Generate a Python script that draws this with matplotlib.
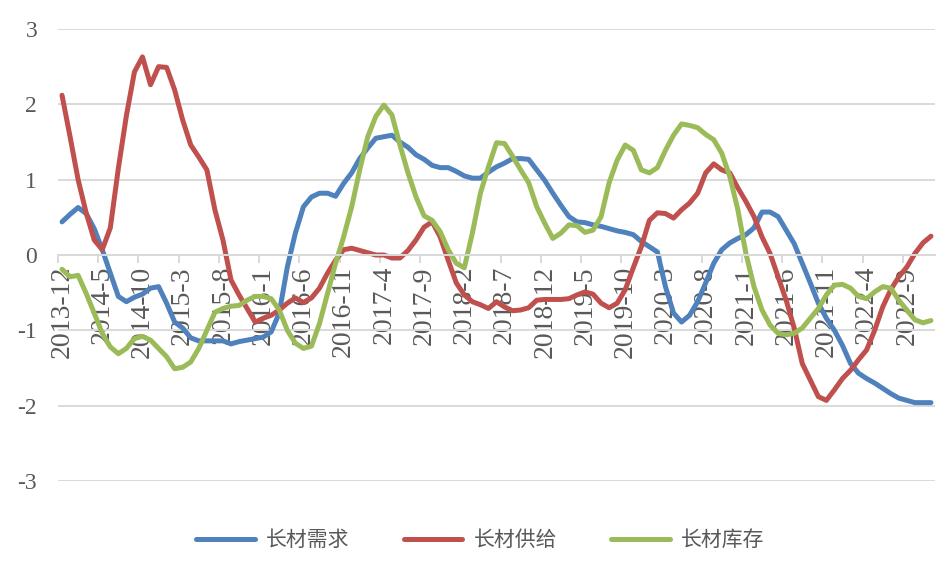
import numpy as np
import matplotlib
matplotlib.use("Agg")
import matplotlib.pyplot as plt
from matplotlib.ticker import FixedLocator

# 月份：2013-12 到 2022-12
months = []
for k in range(109):
    m = 12 + k
    y = 2013 + (m - 1) // 12
    mm = (m - 1) % 12 + 1
    months.append("%d-%d" % (y, mm))

demand = [0.44, 0.54, 0.63, 0.55, 0.35, 0.07, -0.24, -0.55, -0.62, -0.56,
          -0.52, -0.44, -0.42, -0.64, -0.89, -0.97, -1.10, -1.14, -1.14, -1.14,
          -1.14, -1.18, -1.15, -1.13, -1.11, -1.09, -1.02, -0.77, -0.16, 0.29,
          0.64, 0.77, 0.82, 0.82, 0.78, 0.95, 1.09, 1.28, 1.42, 1.55,
          1.57, 1.59, 1.50, 1.43, 1.33, 1.27, 1.19, 1.16, 1.16, 1.11,
          1.05, 1.02, 1.02, 1.10, 1.17, 1.22, 1.28, 1.28, 1.27, 1.13,
          0.99, 0.82, 0.66, 0.51, 0.44, 0.43, 0.40, 0.38, 0.35, 0.32,
          0.30, 0.27, 0.18, 0.11, 0.04, -0.42, -0.77, -0.89, -0.80, -0.62,
          -0.37, -0.11, 0.07, 0.16, 0.22, 0.27, 0.36, 0.57, 0.57, 0.51,
          0.33, 0.15, -0.11, -0.37, -0.64, -0.84, -1.00, -1.20, -1.44, -1.57,
          -1.64, -1.70, -1.77, -1.84, -1.90, -1.93, -1.96, -1.96, -1.96]

supply = [2.12, 1.57, 1.00, 0.56, 0.20, 0.07, 0.36, 1.15, 1.85, 2.43,
          2.63, 2.26, 2.50, 2.49, 2.19, 1.79, 1.46, 1.30, 1.13, 0.60,
          0.20, -0.33, -0.53, -0.71, -0.89, -0.84, -0.80, -0.73, -0.64, -0.57,
          -0.63, -0.57, -0.44, -0.24, -0.07, 0.07, 0.09, 0.06, 0.03, 0.00,
          0.00, -0.04, -0.04, 0.06, 0.20, 0.37, 0.44, 0.24, -0.07, -0.37,
          -0.53, -0.62, -0.66, -0.71, -0.62, -0.69, -0.74, -0.73, -0.70, -0.60,
          -0.59, -0.59, -0.59, -0.58, -0.53, -0.49, -0.52, -0.64, -0.70, -0.64,
          -0.46, -0.17, 0.11, 0.46, 0.56, 0.55, 0.49, 0.60, 0.69, 0.82,
          1.09, 1.21, 1.13, 1.09, 0.89, 0.71, 0.51, 0.24, 0.02, -0.29,
          -0.60, -0.97, -1.44, -1.66, -1.88, -1.93, -1.79, -1.64, -1.53, -1.39,
          -1.26, -1.00, -0.69, -0.46, -0.29, -0.16, 0.02, 0.16, 0.25]

stock = [-0.19, -0.29, -0.27, -0.51, -0.77, -1.04, -1.22, -1.31, -1.24, -1.11,
         -1.08, -1.13, -1.24, -1.35, -1.51, -1.49, -1.42, -1.24, -1.00, -0.76,
         -0.71, -0.68, -0.67, -0.60, -0.55, -0.55, -0.58, -0.73, -1.00, -1.17,
         -1.24, -1.21, -0.91, -0.51, -0.11, 0.24, 0.64, 1.13, 1.57, 1.84,
         1.99, 1.86, 1.46, 1.09, 0.77, 0.52, 0.46, 0.31, 0.07, -0.11,
         -0.17, 0.29, 0.82, 1.17, 1.49, 1.48, 1.31, 1.13, 0.96, 0.64,
         0.42, 0.22, 0.29, 0.40, 0.39, 0.30, 0.33, 0.51, 0.96, 1.26,
         1.46, 1.39, 1.13, 1.09, 1.16, 1.39, 1.59, 1.74, 1.72, 1.69,
         1.60, 1.53, 1.35, 1.04, 0.60, 0.02, -0.42, -0.73, -0.93, -1.04,
         -1.06, -1.04, -0.97, -0.84, -0.71, -0.53, -0.40, -0.39, -0.44, -0.55,
         -0.58, -0.49, -0.42, -0.44, -0.60, -0.73, -0.86, -0.90, -0.87]

names = ["长材需求", "长材供给", "长材库存"]
colors = ["#4F81BD", "#C0504D", "#9BBB59"]

plt.rcParams['font.family'] = ['Liberation Serif', 'Noto Sans CJK SC']
plt.rcParams['axes.unicode_minus'] = False

fig = plt.figure(figsize=(9.45, 5.67), dpi=100)
ax = fig.add_axes([58/945, 1-481/567, (935-58)/945, (481-29)/567])

x = np.arange(len(months))
for data, name, c in zip([demand, supply, stock], names, colors):
    ax.plot(x, data, color=c, lw=3.6, label=name, solid_capstyle='round',
            solid_joinstyle='round')

ax.set_xlim(-0.5, len(months) - 0.5)
ax.set_ylim(-3, 3)
ax.set_yticks(range(-3, 4))
ax.grid(axis='y', color='#D9D9D9', lw=1.4)
ax.set_axisbelow(True)

for s in ['top', 'right', 'left']:
    ax.spines[s].set_visible(False)
ax.spines['bottom'].set_position(('data', 0))
ax.spines['bottom'].set_color('#D9D9D9')
ax.spines['bottom'].set_linewidth(1.4)

lab_idx = list(range(0, len(months), 5))
ax.set_xticks(lab_idx)
ax.set_xticklabels([months[i] for i in lab_idx], rotation=90, fontsize=20,
                   color='#595959', va='top', ha='center')
ax.xaxis.set_minor_locator(FixedLocator([i - 0.5 for i in lab_idx]))
ax.tick_params(axis='x', which='major', length=0, pad=8)
ax.tick_params(axis='x', which='minor', length=6, width=1.4, color='#D9D9D9',
               direction='out')
ax.tick_params(axis='y', length=0, labelsize=17, labelcolor='#595959', pad=15)

fig.legend(loc='center', bbox_to_anchor=(0.5 + 8/945, 1-540/567), ncol=3,
           frameon=False, prop={'family': 'Noto Sans CJK SC', 'size': 15},
           labelcolor='#595959', handlelength=2.8, handletextpad=0.55,
           columnspacing=2.6)

fig.savefig("out.png", dpi=100)
